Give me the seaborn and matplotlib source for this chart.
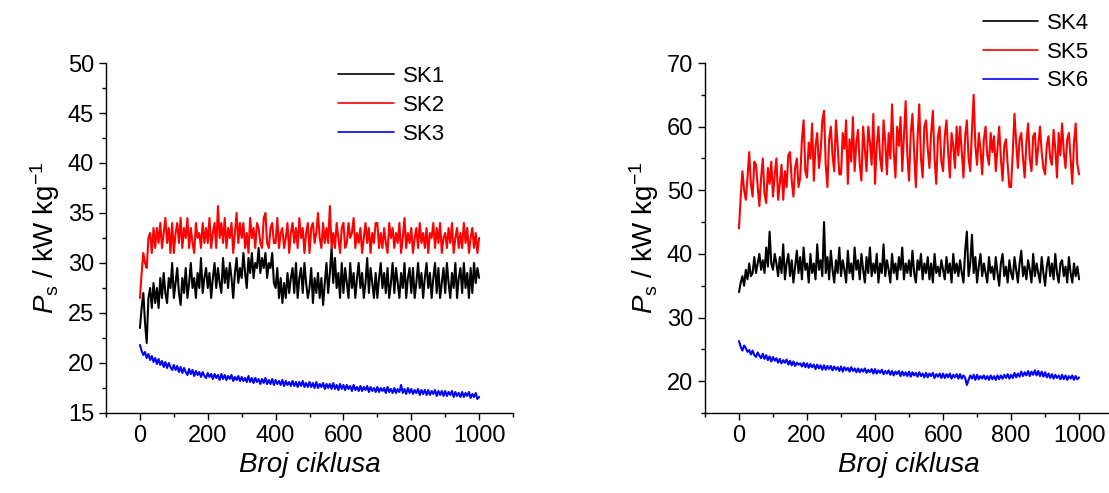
import numpy as np
import pandas as pd
import matplotlib
matplotlib.use('Agg')
import matplotlib.pyplot as plt
import seaborn as sns
from matplotlib.ticker import MultipleLocator

cycles = list(range(0, 1001, 5))

# left panel
sk1 = [23.5, 25.5, 27, 24, 22, 26.5, 27.5, 25.5, 28, 26,
       27.5, 25.5, 28.5, 26.5, 29, 27, 26, 28.5, 27.5, 30,
       26.5, 28, 29.5, 27, 25.8, 28.5, 27, 29.5, 26.5, 28,
       30, 27.5, 28.5, 26.5, 29, 27.5, 30.5, 27, 28.5, 29.5,
       27.5, 29, 26.5, 28.5, 30, 27.5, 29.5, 28, 27, 30.5,
       28, 29.5, 27.5, 30, 28.5, 26.5, 29, 30.5, 28, 29.5,
       28.5, 31, 29, 27.5, 30.5, 29, 31, 28.5, 30, 29.5,
       31.5, 29, 30.5, 29.5, 31, 28.5, 30, 29.5, 31, 28,
       27.5, 29.5, 26.5, 28.5, 26, 28, 26.5, 29, 27, 28.5,
       29.5, 27, 30, 26.5, 28.5, 29.5, 27, 30, 28, 26.5,
       27.5, 29.5, 26, 28.5, 27, 29, 26.5, 28.5, 25.8, 28,
       30, 27, 29, 31.5, 28, 30.5, 27.5, 29, 26.5, 30,
       27, 29.5, 28, 26.5, 30, 27.5, 29, 26.5, 28.5, 30,
       27.5, 29, 26.5, 28, 30.5, 27, 29.5, 28, 26.5, 29,
       26.5, 28.5, 30, 27.5, 29, 27, 29.5, 26.5, 28, 30,
       27, 29.5, 28, 26.5, 29, 27.5, 30, 26.5, 28.5, 29.5,
       27, 29.5, 26.5, 28, 30, 27.5, 29, 26.5, 28.5, 30,
       27.5, 29, 26.5, 28.5, 30, 27, 29.5, 26.5, 28, 29.5,
       27, 30, 28, 26.5, 29, 27.5, 30, 26.5, 28.5, 29.5,
       27, 30, 27.5, 29, 26.5, 29.5, 27, 30, 28, 29.5,
       28.5]
sk2 = [26.5, 29, 31, 30, 29.5, 32.5, 33, 31, 33.5, 31.5,
       33.5, 32, 34, 31.5, 33, 34.5, 32, 33.5, 31, 34,
       31, 33, 34, 32, 34.5, 31.5, 33.5, 32.5, 34.5, 31.5,
       33.5, 32, 31, 34, 32.5, 33, 31.5, 34, 32, 33.5,
       32, 34.5, 31.5, 33, 34, 31.5, 35.7, 32.5, 34, 32,
       34.5, 31.5, 33.5, 32.5, 34, 31, 33, 35, 32, 34,
       32.5, 34, 31.5, 33, 31, 34.5, 32.5, 33.5, 31.5, 34,
       33.5, 32, 31.5, 34.5, 35, 32, 31.5, 33.5, 34, 32,
       32, 34.5, 31.5, 33, 33.5, 31.5, 32.5, 34, 31, 33,
       34, 32, 33.5, 31.5, 34.5, 32.5, 33.5, 31, 33, 34,
       31, 33.5, 34, 32, 33, 35, 32.5, 31.5, 34, 32,
       33.5, 32, 35.7, 31.5, 33, 31.5, 34, 32.5, 31, 33.5,
       34, 31.5, 32, 34, 32.5, 33, 34.5, 31.5, 33, 32,
       33.5, 31, 32.5, 34, 32, 33.5, 31, 33, 32, 34,
       34, 31.5, 33, 31.5, 33.5, 32, 31, 34, 32.5, 33.5,
       31.5, 33, 32, 34, 31, 32.5, 34.5, 31.5, 33, 32,
       33.5, 31, 32.5, 33.5, 31.5, 34, 32, 33, 31.5, 33.5,
       31, 33, 32.5, 34, 31.5, 33.5, 32, 34, 31, 32.5,
       33, 31.5, 33.5, 32, 34, 31, 32.5, 33.5, 31.5, 33,
       31.5, 34, 32, 33.5, 31, 32.5, 33.5, 31.5, 33, 31,
       32.5]
sk3 = [21.8, 21.2, 20.8, 21.1, 20.5, 20.9, 20.3, 20.7, 20.1, 20.5,
       19.9, 20.4, 19.8, 20.2, 19.6, 20.1, 19.5, 20.0, 19.6, 19.3,
       19.8, 19.3, 19.7, 19.1, 19.6, 19.0, 19.5, 19.1, 18.8, 19.4,
       18.9, 19.3, 18.7, 19.2, 18.8, 19.1, 18.6, 19.1, 18.7, 18.5,
       19.0, 18.6, 18.9, 18.4, 18.9, 18.5, 18.8, 18.3, 18.9, 18.4,
       18.8, 18.3, 18.7, 18.4, 18.8, 18.2, 18.6, 18.3, 18.7, 18.2,
       18.6, 18.2, 18.5, 18.1, 18.7, 18.1, 18.5, 18.0, 18.5, 18.1,
       18.4, 17.9, 18.4, 18.0, 18.5, 17.9, 18.3, 17.9, 18.4, 17.8,
       18.3, 17.9, 18.2, 17.8, 18.3, 17.7, 18.2, 17.8, 18.1, 17.7,
       18.2, 17.7, 18.1, 17.6, 18.1, 17.7, 18.2, 17.6, 18.0, 17.6,
       18.1, 17.6, 18.0, 17.5, 18.1, 17.5, 17.9, 17.6, 18.0, 17.4,
       17.9, 17.5, 17.9, 17.4, 18.0, 17.4, 17.8, 17.3, 17.9, 17.4,
       17.8, 17.3, 17.8, 17.4, 17.7, 17.2, 17.8, 17.3, 17.6, 17.2,
       17.7, 17.2, 17.6, 17.3, 17.7, 17.1, 17.6, 17.2, 17.5, 17.1,
       17.6, 17.1, 17.5, 17.2, 17.5, 17.0, 17.6, 17.1, 17.4, 17.0,
       17.5, 17.0, 17.4, 17.1, 17.8, 17.0, 17.4, 16.9, 17.5, 17.0,
       17.4, 16.9, 17.3, 17.0, 17.4, 16.8, 17.3, 16.9, 17.3, 16.8,
       17.3, 16.8, 17.2, 16.9, 17.3, 16.7, 17.2, 16.8, 17.2, 16.7,
       17.2, 16.7, 17.1, 16.8, 17.2, 16.6, 17.1, 16.7, 17.0, 16.6,
       17.1, 16.6, 17.0, 16.7, 17.1, 16.5, 16.9, 16.6, 17.0, 16.4,
       16.6]

# right panel
sk4 = [34, 35.5, 36.5, 35, 37.5, 36, 38.5, 36.5, 37, 39.5,
       37, 38.5, 40, 37.5, 39, 37, 41, 38, 43.5, 38.5,
       37.5, 40, 38.5, 36.5, 39.5, 37, 41.5, 36, 38.5, 40,
       36.5, 39, 35.5, 38, 40.5, 37, 39.5, 36, 41, 37.5,
       38.5, 35.5, 40, 37, 38.5, 36, 41.5, 37.5, 39, 36.5,
       45, 37, 39.5, 36, 40.5, 37.5, 35.5, 39, 37, 41,
       36.5, 39, 37.5, 35.5, 40.5, 37, 38.5, 36, 41, 37.5,
       39, 36, 40, 37.5, 35.5, 39.5, 37, 41, 36.5, 38.5,
       37, 40, 35.5, 38.5, 37, 41.5, 36.5, 39, 37.5, 35.5,
       40, 37, 38.5, 36, 39.5, 37.5, 41, 36, 38.5, 37,
       39, 36.5, 40.5, 37, 35.5, 39, 37.5, 40, 36, 38.5,
       37, 39.5, 36, 38.5, 35.5, 40, 37, 38, 36.5, 39,
       37.5, 36, 39.5, 37, 38.5, 35.5, 40, 37, 38.5, 36.5,
       39, 37, 35.5, 40.5, 43.5, 36.5, 38.5, 43, 37, 39.5,
       35.5, 38, 40, 36.5, 38.5, 37, 35.5, 39.5, 37, 38,
       36, 39.5, 37, 35, 38.5, 40, 36.5, 38, 35.5, 39,
       37, 36, 39.5, 37.5, 35.5, 38.5, 40.5, 36.5, 38, 36,
       39, 37.5, 35.5, 40, 36.5, 38.5, 37, 35.5, 39.5, 37,
       35, 38, 39.5, 36.5, 38.5, 36, 40, 37, 35.5, 38.5,
       39, 36.5, 38, 35.5, 39.5, 37, 35.5, 38.5, 36.5, 38,
       36]
sk5 = [44, 49, 53, 50, 48.5, 52, 56, 51, 49, 54.5,
       54, 50.5, 47.5, 52, 55, 49.5, 48, 53.5, 51, 54.5,
       49, 52.5, 55, 48.5, 51, 54, 48.5, 53, 50.5, 55.5,
       56, 51.5, 49, 53.5, 55, 50.5, 52, 58, 61, 53,
       52, 57.5, 55, 60.5, 51.5, 57, 59, 53.5, 56, 61,
       62.5, 54, 50.5, 58, 60, 55.5, 53, 61, 57, 52.5,
       52.5, 59, 56.5, 61, 51, 58, 54.5, 61.5, 53, 57.5,
       59.5, 54, 51.5, 60, 56.5, 53, 60, 57.5, 54, 62,
       51, 57, 60, 55, 53, 61, 57.5, 52.5, 59, 55,
       63.5, 56, 52, 60, 57, 61.5, 53, 58.5, 64, 55.5,
       51.5, 59, 62, 56, 50.5, 58, 63.5, 55, 52, 60,
       61, 56.5, 53.5, 59, 62.5, 55, 51, 58.5, 60, 54.5,
       53, 58.5, 61, 56, 52, 59, 57, 53.5, 60, 55.5,
       60, 56, 52, 58.5, 61, 55, 53, 59.5, 65, 57,
       54, 59, 56.5, 52.5, 58, 60, 55.5, 54, 59, 56,
       58.5, 53, 56.5, 60, 55, 51.5, 57, 58, 54, 50.5,
       50.5, 56, 62, 57.5, 53.5, 58, 59, 55, 52, 57.5,
       60.5, 55, 53, 58.5, 59, 54, 57, 60, 56, 53.5,
       52.5, 57, 58.5, 55, 54, 59.5, 56.5, 52, 59, 55.5,
       60.5, 56, 53.5, 58, 59, 55, 51, 57.5, 60.5, 54,
       52.5]
sk6 = [26.3, 25.4, 24.8, 25.6, 25.2, 24.6, 24.9, 24.2, 24.8, 24.1,
       23.8, 24.5, 24.0, 23.6, 24.3, 23.5, 24.1, 23.3, 23.9, 23.1,
       23.8, 23.2, 23.6, 22.9, 23.5, 22.8, 23.3, 22.9, 23.4, 22.6,
       23.2, 22.5, 23.1, 22.4, 22.9, 22.6, 22.8, 22.3, 22.9, 22.2,
       22.8, 22.1, 22.7, 22.2, 22.6, 21.9, 22.6, 22.0, 22.5, 21.8,
       22.5, 21.8, 22.4, 21.9, 22.4, 21.7, 22.3, 21.8, 22.2, 21.6,
       22.3, 21.5, 22.2, 21.7, 22.1, 21.5, 22.2, 21.6, 22.0, 21.4,
       22.0, 21.4, 21.9, 21.5, 22.0, 21.3, 21.8, 21.4, 21.9, 21.2,
       21.9, 21.2, 21.7, 21.3, 21.8, 21.1, 21.6, 21.2, 21.7, 21.0,
       21.6, 20.9, 21.5, 21.1, 21.6, 20.8, 21.5, 20.9, 21.4, 20.8,
       21.5, 20.7, 21.4, 20.9, 21.3, 20.7, 21.4, 20.8, 21.2, 20.6,
       21.3, 20.6, 21.2, 20.8, 21.3, 20.5, 21.1, 20.7, 21.2, 20.5,
       21.2, 20.5, 21.1, 20.6, 21.2, 20.4, 21.0, 20.6, 21.1, 20.4,
       21.1, 20.4, 20.9, 20.5, 19.4, 20.2, 20.9, 20.4, 21.0, 20.2,
       21.0, 20.3, 20.8, 20.4, 20.9, 20.3, 20.8, 20.2, 20.9, 20.3,
       20.8, 20.2, 20.9, 20.3, 20.9, 20.4, 21.0, 20.5, 21.1, 20.4,
       21.0, 20.5, 21.3, 20.6, 21.2, 20.7, 21.5, 20.8, 21.4, 20.9,
       21.6, 20.8, 21.5, 21.0, 21.7, 20.9, 21.6, 20.8, 21.5, 20.7,
       21.4, 20.6, 21.2, 20.5, 21.1, 20.4, 21.0, 20.5, 20.9, 20.3,
       21.0, 20.3, 20.9, 20.2, 20.8, 20.4, 20.9, 20.2, 20.8, 20.3,
       20.6]

sns.set_theme(style="ticks")
plt.rcParams['font.family'] = ['Liberation Sans', 'DejaVu Sans']
plt.rcParams['mathtext.fontset'] = 'custom'
plt.rcParams['mathtext.rm'] = 'Liberation Sans'
plt.rcParams['mathtext.it'] = 'Liberation Sans:italic'
plt.rcParams['text.color'] = 'black'
plt.rcParams['axes.labelcolor'] = 'black'

fig = plt.figure(figsize=(11.09, 4.93), dpi=100)
ax1 = fig.add_axes([0.0956, 0.1623, 0.367, 0.7099])
ax2 = fig.add_axes([0.6357, 0.1623, 0.368, 0.7099])

colors = ['black', 'red', 'blue']


def draw_panel(ax, names, series, ylim, ymajor, yminor, leg_pos):
    n = len(cycles)
    df = pd.DataFrame({
        'cycle': cycles * 3,
        'Ps': series[0] + series[1] + series[2],
        'uzorak': [names[0]] * n + [names[1]] * n + [names[2]] * n,
    })
    sns.lineplot(data=df, x='cycle', y='Ps', hue='uzorak', hue_order=names,
                 palette=dict(zip(names, colors)), linewidth=1.5, ax=ax, legend=False)
    ax.set_xlim(-100, 1100)
    ax.set_ylim(*ylim)
    ax.xaxis.set_major_locator(MultipleLocator(200))
    ax.xaxis.set_minor_locator(MultipleLocator(100))
    ax.yaxis.set_major_locator(MultipleLocator(ymajor))
    ax.yaxis.set_minor_locator(MultipleLocator(yminor))
    ax.tick_params(which='major', direction='out', length=5, width=1, labelsize=17, colors='black')
    ax.tick_params(which='minor', direction='out', length=3, width=1, colors='black')
    for s in ['top', 'right']:
        ax.spines[s].set_visible(False)
    for s in ['left', 'bottom']:
        ax.spines[s].set_color('black')
        ax.spines[s].set_linewidth(1)
    ax.set_xlabel('Broj ciklusa', fontsize=20, style='italic')
    ax.set_ylabel(r'$P_\mathrm{s}$ / kW kg$^{-1}$', fontsize=20)
    leg = ax.legend(ax.get_lines()[:3], names, loc='upper left', bbox_to_anchor=leg_pos,
                    bbox_transform=fig.transFigure, frameon=False, fontsize=16,
                    handlelength=2.5, handletextpad=0.4, labelspacing=0.35,
                    borderpad=0, borderaxespad=0)
    for h in leg.get_lines():
        h.set_linewidth(1.2)


draw_panel(ax1, ['SK1', 'SK2', 'SK3'], [sk1, sk2, sk3], (15, 50), 5, 2.5, (0.305, 0.866))
draw_panel(ax2, ['SK4', 'SK5', 'SK6'], [sk4, sk5, sk6], (15, 70), 10, 5, (0.886, 0.974))

plt.savefig('out.png', dpi=100)
plt.close()
